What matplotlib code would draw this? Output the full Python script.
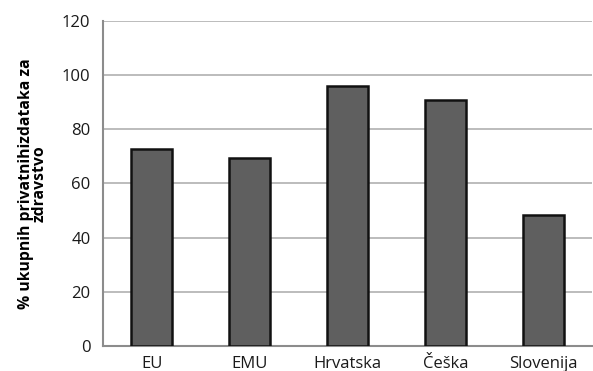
import matplotlib
matplotlib.use("Agg")
import matplotlib.pyplot as plt

categories = ["EU", "EMU", "Hrvatska", "Češka", "Slovenija"]
values = [72.7, 69.4, 96.0, 90.7, 48.3]
yticks = [0, 20, 40, 60, 80, 100, 120]

plt.rcParams['font.family'] = ['Open Sans', 'DejaVu Sans']

fig = plt.figure(figsize=(5.93, 3.71), dpi=100)
ax = fig.add_axes([0.1737, 0.0674, 0.825, 0.876])
x = range(len(categories))
ax.bar(x, values, width=0.42, color='#5f5f5f', edgecolor='#111111', linewidth=1.8, zorder=3)
ax.set_xlim(-0.5, len(categories) - 0.5)
ax.set_ylim(0, 120)
ax.set_yticks(yticks)
ax.set_xticks(list(x))
ax.set_xticklabels(categories)
ax.yaxis.grid(True, color='#b0b0b0', linewidth=1.2, zorder=0)
ax.set_axisbelow(True)
for s in ['top', 'right']:
    ax.spines[s].set_visible(False)
for s in ['left', 'bottom']:
    ax.spines[s].set_color('#8c8c8c')
    ax.spines[s].set_linewidth(1.5)
ax.tick_params(length=0, labelsize=12, pad=9, colors='#1a1a1a')
ax.tick_params(axis='x', pad=7)
ax.set_ylabel("% ukupnih privatnihizdataka za\nzdravstvo", fontsize=11.3, fontweight='bold',
              labelpad=10, linespacing=0.85, multialignment='center')
fig.savefig("out.png", dpi=100)
